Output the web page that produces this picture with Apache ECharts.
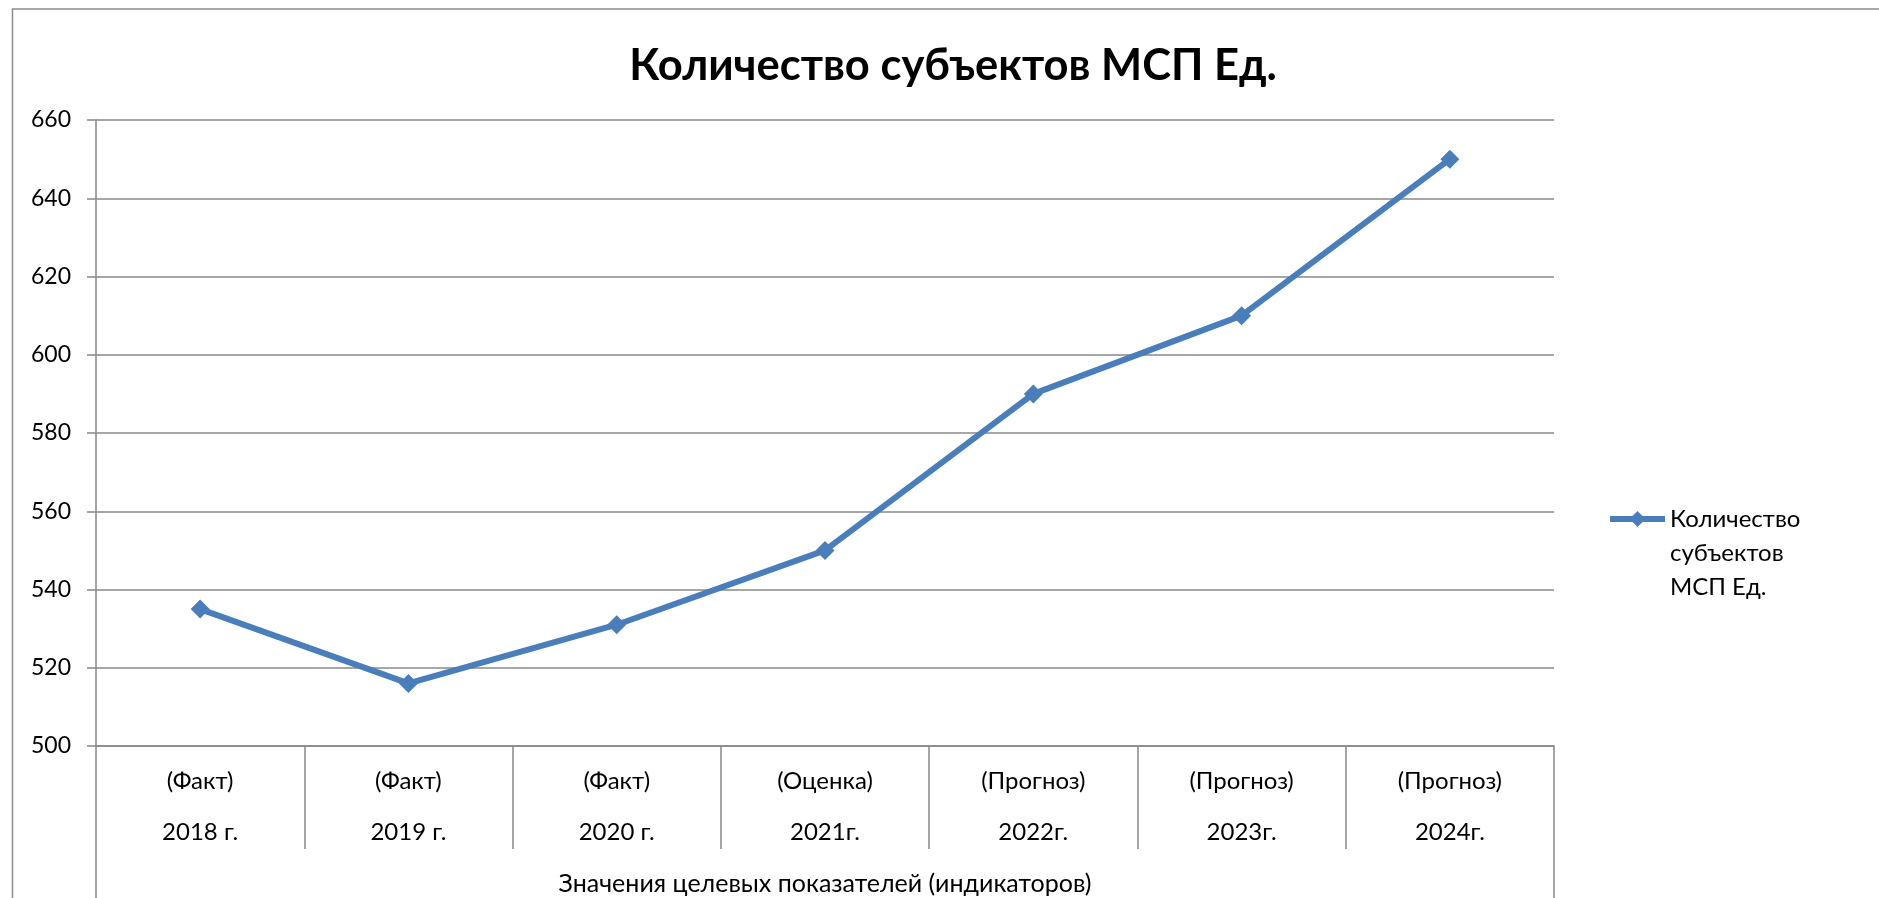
<!DOCTYPE html>
<html>
<head>
<meta charset="utf-8">
<script src="https://cdn.jsdelivr.net/npm/echarts@6/dist/echarts.min.js"></script>
<style>
html,body{margin:0;padding:0;background:#fff;}
#chart{width:1879px;height:898px;}
</style>
</head>
<body>
<div id="chart"></div>
<script>
const chartTitle = 'Количество субъектов МСП Ед.';
const seriesName = 'Количество субъектов МСП Ед.';
const categoryStatus = ['(Факт)', '(Факт)', '(Факт)', '(Оценка)', '(Прогноз)', '(Прогноз)', '(Прогноз)'];
const categoryYears = ['2018 г.', '2019 г.', '2020 г.', '2021г.', '2022г.', '2023г.', '2024г.'];
const values = [535, 516, 531, 550, 590, 610, 650];
const axisGroupTitle = ['Значения целевых показателей (индикаторов)'];
const legendLines = ['Количество', 'субъектов', 'МСП Ед.'];

const FONT = 'Lato, "Open Sans", sans-serif';
const GRID_COLOR = '#888888';
const LINE_COLOR = '#4A7EBB';

const categories = categoryYears.map((y, i) => categoryStatus[i] + '\n' + y);

const chart = echarts.init(document.getElementById('chart'), null, {renderer: 'canvas'});
chart.setOption({
  backgroundColor: '#ffffff',
  animation: false,
  title: {
    text: chartTitle,
    left: 948,
    top: 39,
    textAlign: 'center',
    textStyle: {fontFamily: FONT, fontWeight: 'bold', fontSize: 43.5, color: '#000'}
  },
  graphic: [{
    type: 'rect',
    shape: {x: 12.5, y: 9, width: 2000, height: 2000},
    style: {fill: 'none', stroke: '#8c8c8c', lineWidth: 1.5},
    silent: true
  }],
  legend: {
    left: 1607,
    top: 434,
    orient: 'vertical',
    itemWidth: 55,
    itemHeight: 20,
    padding: 0,
    data: [seriesName],
    lineStyle: {width: 6},
    formatter: () => '\n\n' + legendLines.join('\n'),
    textStyle: {fontFamily: FONT, fontSize: 24, color: '#000', lineHeight: 34}
  },
  grid: {left: 96, right: 325, top: 120, bottom: 152, containLabel: false},
  xAxis: [{
    type: 'category',
    data: categories,
    position: 'bottom',
    boundaryGap: true,
    axisLine: {show: true, lineStyle: {color: GRID_COLOR, width: 1.5}},
    axisTick: {show: true, interval: 0, length: 103, alignWithLabel: false, lineStyle: {color: GRID_COLOR, width: 1.5}},
    axisLabel: {interval: 0, margin: 10, fontFamily: FONT, fontSize: 24, color: '#000', lineHeight: 51},
    splitLine: {show: false}
  }, {
    type: 'category',
    data: axisGroupTitle,
    position: 'bottom',
    boundaryGap: true,
    axisLine: {show: false},
    axisTick: {show: true, interval: 0, length: 160, alignWithLabel: false, lineStyle: {color: GRID_COLOR, width: 1.5}},
    axisLabel: {interval: 0, margin: 125, fontFamily: FONT, fontSize: 25, color: '#000'},
    splitLine: {show: false}
  }],
  yAxis: {
    type: 'value',
    min: 500,
    max: 660,
    interval: 20,
    axisLine: {show: true, lineStyle: {color: GRID_COLOR, width: 1.5}},
    axisTick: {show: true, length: 9, lineStyle: {color: GRID_COLOR, width: 1.5}},
    axisLabel: {margin: 25, fontFamily: FONT, fontSize: 23, color: '#000'},
    splitLine: {show: true, lineStyle: {color: GRID_COLOR, width: 1.5}}
  },
  series: [{
    name: seriesName,
    type: 'line',
    xAxisIndex: 0,
    data: values,
    symbol: 'diamond',
    symbolSize: 19,
    lineStyle: {color: LINE_COLOR, width: 6},
    itemStyle: {color: LINE_COLOR},
    z: 5
  }]
});
</script>
</body>
</html>
